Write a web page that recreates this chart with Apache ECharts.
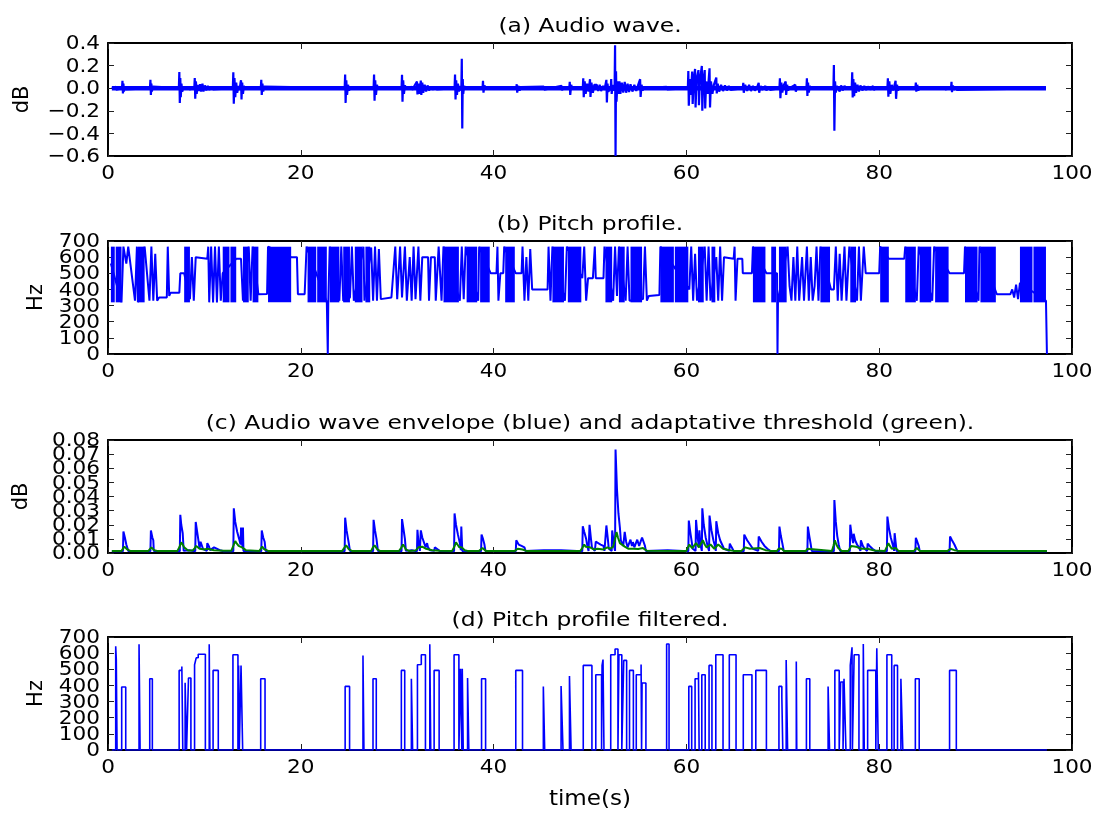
<!DOCTYPE html>
<html>
<head>
<meta charset="utf-8">
<script src="https://cdn.jsdelivr.net/npm/echarts@6/dist/echarts.min.js"></script>
<style>
  html, body { margin: 0; padding: 0; background: #fff; }
  #chart { width: 1095px; height: 814px; }
</style>
</head>
<body>
<div id="chart"></div>
<script>
// ---- panel titles and tick labels ----
const panelTitles = [
  '(a) Audio wave.',
  '(b) Pitch profile.',
  '(c) Audio wave envelope (blue) and adaptative threshold (green).',
  '(d) Pitch profile filtered.'
];
const timeLabel = 'time(s)';
const yNames = ['dB', 'Hz', 'dB', 'Hz'];
const timeTicks = [0, 20, 40, 60, 80, 100];
const waveTicks = [-0.6, -0.4, -0.2, 0.0, 0.2, 0.4];
const pitchTicks = [0, 100, 200, 300, 400, 500, 600, 700];
const envTicks = [0, 0.01, 0.02, 0.03, 0.04, 0.05, 0.06, 0.07, 0.08];

// ---- (a) audio wave: [time s, dB] ----
const waveFloor = [[0.4, 0], [97.3, 0]];
const audioWave = [
  [0.4,0],[0.8,0.012],[0.85,-0.012],[0.9,0],
  [1.45,0],[1.5,0.065],[1.55,-0.047],[1.6,0.04],[1.65,-0.03],[1.75,0.015],[1.85,-0.01],[1.95,0],
  [4.35,0],[4.4,0.074],[4.45,-0.059],[4.5,0.04],[4.55,-0.03],[4.65,0.015],[4.75,0],
  [7.35,0],[7.4,0.144],[7.45,-0.13],[7.5,0.09],[7.55,-0.08],[7.62,0.04],[7.7,-0.03],[7.8,0],
  [8.4,0.01],[8.45,-0.01],[8.5,0],
  [8.95,0],[9.0,0.09],[9.05,-0.094],[9.12,0.06],[9.2,-0.05],[9.3,0.03],[9.4,-0.025],
  [9.55,0.035],[9.65,-0.03],[9.8,0.04],[9.9,-0.03],[10.05,0.025],[10.2,-0.02],[10.35,0.02],[10.5,-0.015],[10.7,0.012],[10.9,-0.01],[11.1,0],
  [12.95,0],[13.0,0.141],[13.05,-0.138],[13.12,0.09],[13.2,-0.08],[13.3,0.05],[13.4,-0.04],[13.55,0.02],[13.65,-0.015],
  [13.75,0.05],[13.8,0.07],[13.85,-0.1],[13.92,0.05],[14.0,-0.05],[14.1,0.02],[14.2,0],
  [15.85,0],[15.9,0.074],[15.95,-0.06],[16.02,0.04],[16.1,-0.03],[16.2,0.015],[16.3,0],
  [24.55,0],[24.6,0.12],[24.65,-0.13],[24.72,0.07],[24.8,-0.06],[24.9,0.03],[25.0,-0.02],[25.1,0],
  [27.55,0],[27.6,0.12],[27.65,-0.11],[27.72,0.07],[27.8,-0.06],[27.9,0.03],[28.0,0],
  [30.45,0],[30.5,0.118],[30.55,-0.12],[30.62,0.07],[30.7,-0.05],[30.8,0.025],[30.9,0],
  [31.5,0.012],[31.55,-0.015],[31.6,0],
  [32.05,0.06],[32.1,-0.055],[32.2,0.04],[32.3,-0.05],[32.45,0.068],[32.5,-0.06],[32.6,0.05],[32.7,-0.04],[32.85,0.03],[33.0,-0.03],
  [33.15,0.025],[33.3,-0.02],[33.5,0.015],[33.7,-0.012],[33.95,0.012],[34.1,-0.01],[34.2,0],
  [35.95,0],[36.0,0.12],[36.05,-0.1],[36.12,0.07],[36.2,-0.06],[36.3,0.04],[36.4,-0.03],[36.5,0.02],
  [36.65,-0.02],[36.7,0.26],[36.75,-0.356],[36.8,0.08],[36.85,-0.05],[36.95,0.02],[37.05,0],
  [38.85,0],[38.9,0.065],[38.95,-0.04],[39.05,0.025],[39.15,0],
  [42.35,0],[42.4,0.035],[42.45,-0.04],[42.55,0.02],[42.7,-0.02],[42.85,0.01],[43.0,0],
  [45.2,0.015],[45.25,-0.012],[45.3,0],
  [47.05,0.02],[47.1,-0.02],[47.15,0],
  [47.85,0],[47.9,0.056],[47.95,-0.06],[48.05,0.03],[48.15,0],
  [49.25,0],[49.3,0.088],[49.35,-0.08],[49.45,0.06],[49.55,-0.05],[49.7,0.04],[49.85,-0.03],[50.0,0.08],[50.05,-0.077],[50.15,0.05],[50.3,-0.04],[50.45,0.03],
  [50.7,0.03],[50.85,-0.025],[51.0,0.03],[51.15,-0.025],[51.35,0.02],[51.5,-0.015],
  [51.65,0],[51.7,0.074],[51.75,-0.126],[51.82,0.04],[51.9,-0.03],
  [52.15,0],[52.2,0.08],[52.25,-0.05],[52.35,0.03],[52.45,-0.02],
  [52.55,0],[52.6,0.38],[52.65,-0.6],[52.7,0.15],[52.75,-0.12],[52.85,0.06],[52.95,-0.05],
  [53.05,0.06],[53.15,-0.05],[53.3,0.05],[53.45,-0.04],[53.6,0.055],[53.75,-0.04],[53.9,0.04],[54.05,-0.035],[54.2,0.035],[54.4,-0.03],
  [54.6,0.03],[54.8,-0.025],[55.0,0.03],[55.2,0.08],[55.25,-0.077],[55.35,0.03],[55.45,-0.02],[55.6,0],
  [57.95,0.012],[58.0,-0.01],[58.05,0],
  [60.15,0],[60.2,0.153],[60.25,-0.156],[60.35,0.08],[60.45,-0.06],[60.6,0.147],[60.65,-0.14],[60.75,0.06],[60.9,0.17],[60.95,-0.17],
  [61.05,0.07],[61.25,0.16],[61.3,-0.15],[61.4,0.06],[61.6,0.197],[61.65,-0.2],[61.75,0.07],[61.9,0.16],[61.95,-0.18],[62.05,0.06],
  [62.2,-0.05],[62.4,0.176],[62.45,-0.17],[62.55,0.06],[62.7,-0.05],[62.85,0.03],
  [63.1,0.094],[63.15,-0.047],[63.25,0.04],[63.4,-0.03],[63.6,0.03],[63.8,-0.025],[64.0,0.025],[64.2,-0.02],[64.4,0.02],[64.6,-0.015],[64.8,0],
  [65.85,0],[65.9,0.047],[65.95,-0.04],[66.1,0.03],[66.3,-0.025],[66.5,0.03],[66.7,-0.025],[66.9,0.02],[67.1,-0.02],[67.3,0],
  [67.5,0.047],[67.55,-0.04],[67.7,0.02],[67.85,-0.015],[68.0,0],
  [68.2,0.02],[68.3,-0.02],[68.5,0.015],[68.7,-0.015],[68.9,0],
  [69.65,0],[69.7,0.088],[69.75,-0.088],[69.85,0.05],[69.95,-0.04],[70.05,0.02],
  [70.3,0.06],[70.35,-0.06],[70.45,0.03],[70.55,-0.02],[70.7,0],
  [71.3,0.03],[71.35,-0.03],[71.45,0],
  [72.45,0],[72.5,0.088],[72.55,-0.068],[72.62,0.05],[72.7,-0.04],[72.8,0.02],[72.9,0],
  [75.25,0],[75.3,0.206],[75.35,-0.376],[75.42,0.06],[75.5,-0.04],[75.6,0.02],
  [75.8,0.03],[75.9,-0.03],[76.05,0.025],[76.2,-0.02],[76.4,0.02],[76.55,0],
  [77.15,0],[77.2,0.14],[77.25,-0.082],[77.32,0.08],[77.4,-0.07],[77.5,0.05],[77.6,-0.04],[77.75,0.03],[77.9,-0.03],[78.05,0.025],
  [78.25,-0.02],[78.45,0.02],[78.65,-0.015],[78.9,0.015],[79.1,-0.012],[79.35,0.02],[79.45,-0.015],[79.7,0],
  [80.85,0],[80.9,0.088],[80.95,-0.076],[81.05,0.06],[81.15,-0.05],[81.3,0.03],[81.45,-0.02],
  [81.7,0.065],[81.75,-0.094],[81.85,0.03],[81.95,-0.02],[82.1,0],
  [83.75,0],[83.8,0.05],[83.85,-0.03],[83.95,0.03],[84.05,-0.02],[84.2,0],
  [86.8,0.01],[86.85,-0.01],[86.9,0],
  [87.45,0],[87.5,0.056],[87.55,-0.035],[87.65,0.025],[87.75,-0.015],[87.9,0.01],
  [88.0,0.015],[88.05,-0.015],[88.15,0],
  [97.3,0]
];

// ---- (b) pitch profile: dense oscillation spans [t0, t1, lowHz, highHz] and the trace [time s, Hz] ----
const pitchBands = [
  [0.3,0.7,320,665],[0.8,1.4,320,665],[3.1,3.8,320,665],[7.9,8.5,320,665],[11.9,12.6,320,665],[12.7,13.3,320,665],
  [14.0,14.6,320,665],[15.0,15.6,320,665],[16.6,19.0,320,665],[20.7,21.6,320,665],[21.7,22.7,320,665],
  [23.0,24.0,320,665],[24.4,25.1,320,665],[25.6,26.4,320,665],[26.7,27.2,320,665],
  [34.8,36.4,320,665],[37.2,38.3,320,665],[38.6,39.6,320,665],[41.2,42.2,320,665],
  [46.1,47.3,320,665],[47.7,49.1,320,665],[51.6,52.3,320,665],[53.0,53.6,320,665],
  [54.2,55.4,320,665],[57.3,58.7,320,665],[58.8,60.2,320,665],[61.2,61.8,320,665],[62.6,63.0,320,665],
  [66.9,68.2,320,665],[68.8,69.3,320,665],[69.6,70.4,320,665],[73.9,74.9,320,665],
  [77.0,77.6,320,665],[80.1,81.0,320,665],[82.7,83.8,320,665],[84.2,85.4,320,665],
  [85.8,87.2,320,665],[88.9,90.2,320,665],[90.5,92.1,320,665],[94.6,95.9,320,665],[96.0,97.3,320,665]
];
const pitchTrace = [
  [0.3,560],[1.4,320],[1.6,665],[1.9,560],[2.1,665],[2.8,330],[3.0,665],[3.1,320],
  [3.8,665],[4.3,330],[4.5,665],[4.7,330],[4.9,620],[5.1,330],[5.3,350],[6.1,350],[6.2,665],[6.35,360],[6.5,380],[7.4,380],
  [7.5,500],[7.9,500],[8.5,340],[8.7,600],[8.9,330],[9.1,600],[9.3,590],[10.3,590],[10.4,665],[10.5,320],[10.7,665],
  [10.9,320],[11.1,665],[11.3,320],[11.5,665],[11.7,330],[11.9,500],[13.3,590],[13.8,590],[14.0,330],
  [14.6,665],[14.8,330],[15.0,665],[15.6,370],[15.8,372],[16.5,372],[16.6,665],
  [19.0,600],[19.6,600],[19.7,370],[20.4,370],[20.6,665],[22.7,320],[22.75,320],[22.8,0],[22.85,320],[23.0,665],
  [24.0,330],[24.2,665],[24.4,330],[25.1,350],[25.3,665],[25.5,330],[26.5,665],[26.6,330],
  [27.3,660],[27.5,330],[27.7,665],[27.9,330],[28.1,650],[28.3,340],[28.5,350],[29.4,350],[29.6,360],[29.8,665],
  [30.0,340],[30.3,665],[30.5,350],[30.8,665],[31.0,330],[31.3,600],[31.5,330],[31.7,665],[31.9,340],[32.2,665],
  [32.4,330],[32.6,600],[33.2,600],[33.3,330],[33.5,600],[33.9,600],[34.0,330],[34.3,665],[34.6,330],[34.8,665],
  [36.5,330],[36.7,665],[36.9,340],[37.1,665],[38.4,330],[38.5,665],
  [39.7,500],[40.3,500],[40.4,665],[40.5,330],[40.7,500],[41.0,500],[41.1,665],
  [42.3,500],[42.9,500],[43.0,665],[43.2,330],[43.4,600],[43.6,330],[43.8,650],[44.0,400],[45.6,400],
  [45.7,665],[45.9,330],[46.1,665],[47.4,330],[47.6,665],
  [49.2,470],[49.4,665],[49.6,330],[49.8,470],[50.3,470],[50.5,665],[50.6,470],[51.4,470],[51.5,665],
  [52.4,330],[52.6,665],[52.8,360],[53.0,665],[53.7,330],[53.9,665],[54.1,330],
  [55.5,340],[55.7,665],[55.9,330],[56.1,360],[56.2,365],[57.2,365],[57.3,665],
  [60.3,400],[60.5,665],[60.7,330],[60.9,620],[61.1,330],[61.9,665],[62.1,330],[62.3,665],[62.5,330],
  [63.1,600],[63.3,330],[63.5,665],[63.7,330],[63.9,600],[64.0,590],[64.9,590],[65.0,665],[65.1,330],
  [65.3,590],[65.8,590],[65.85,500],[66.8,500],[66.9,665],[68.3,500],[68.7,500],
  [69.4,500],[69.45,0],[69.5,330],[70.5,665],[70.7,420],[70.9,330],[71.1,600],[71.3,330],[71.5,665],
  [71.7,330],[72.0,600],[72.2,330],[72.5,665],[72.7,330],[72.9,600],[73.1,330],[73.3,420],[73.5,665],[73.7,330],[73.9,665],
  [75.0,400],[75.3,400],[75.5,665],[75.7,330],[75.9,620],[76.1,330],[76.4,665],[76.6,330],[76.9,665],
  [77.7,330],[77.9,665],[78.1,330],[78.4,665],[78.6,500],[80.0,500],[80.1,665],
  [81.0,590],[82.6,590],[82.7,665],[83.9,330],[84.1,665],[85.5,330],[85.7,665],
  [87.3,500],[88.8,500],[88.9,665],[90.3,330],[90.4,665],
  [92.2,370],[93.6,370],[93.8,400],[94.0,350],[94.2,430],[94.4,340],[94.6,440],
  [97.3,330],[97.35,330],[97.4,0]
];

// ---- (c) envelope (blue) and adaptive threshold (green): [time s, dB] ----
const envelope = [
  [0.4,0.0012],[1.55,0.0012],[1.6,0.0152],[1.75,0.011],[1.9,0.006],[2.0,0.0065],[2.1,0.0015],
  [4.4,0.0012],[4.45,0.016],[4.6,0.011],[4.7,0.009],[4.75,0.0015],
  [7.45,0.0012],[7.5,0.027],[7.6,0.02],[7.75,0.014],[7.85,0.0015],
  [8.4,0.002],[9.05,0.0012],[9.1,0.022],[9.25,0.015],[9.4,0.008],[9.5,0.003],[9.6,0.008],[9.7,0.006],[9.85,0.003],
  [10.25,0.0015],[10.3,0.007],[10.45,0.005],[10.6,0.002],[11.0,0.004],[11.2,0.003],[11.6,0.002],[12.0,0.0012],
  [13.0,0.0012],[13.05,0.0316],[13.2,0.022],[13.4,0.015],[13.6,0.01],[13.75,0.006],[13.8,0.018],[13.9,0.018],[13.95,0.004],[14.0,0.018],[14.05,0.0015],
  [15.9,0.0012],[15.95,0.016],[16.1,0.011],[16.25,0.008],[16.35,0.0015],
  [24.55,0.0012],[24.6,0.025],[24.75,0.016],[24.9,0.01],[25.0,0.006],[25.1,0.0015],
  [27.5,0.0012],[27.55,0.0235],[27.7,0.016],[27.85,0.01],[28.0,0.0015],
  [30.45,0.0012],[30.5,0.024],[30.65,0.017],[30.8,0.01],[30.9,0.0015],
  [31.5,0.002],[32.05,0.0012],[32.1,0.0164],[32.2,0.008],[32.35,0.0015],[32.45,0.016],[32.6,0.011],[32.8,0.007],[32.95,0.004],
  [33.1,0.007],[33.2,0.004],[33.4,0.002],[33.85,0.0015],[33.9,0.004],[34.1,0.003],[34.4,0.0015],
  [35.9,0.0012],[35.95,0.028],[36.1,0.02],[36.3,0.013],[36.5,0.007],[36.6,0.002],[36.65,0.0188],[36.72,0.0188],[36.75,0.0015],
  [38.7,0.0012],[38.75,0.013],[38.9,0.01],[39.05,0.006],[39.15,0.0015],
  [42.3,0.0012],[42.35,0.009],[42.6,0.006],[42.9,0.005],[43.2,0.004],[43.3,0.0015],
  [45.2,0.002],[47.0,0.002],
  [49.2,0.0012],[49.25,0.019],[49.4,0.015],[49.6,0.01],[49.75,0.004],[49.85,0.0015],[49.95,0.02],[50.1,0.01],[50.2,0.004],
  [50.5,0.0015],[50.6,0.008],[50.8,0.007],[51.1,0.006],[51.4,0.005],[51.5,0.0015],
  [51.65,0.0012],[51.7,0.0195],[51.85,0.01],[51.95,0.003],[52.25,0.0015],[52.3,0.016],[52.45,0.008],[52.55,0.003],
  [52.6,0.0015],[52.65,0.0733],[52.8,0.045],[52.95,0.028],[53.1,0.018],[53.2,0.009],[53.3,0.009],[53.45,0.005],
  [53.6,0.015],[53.75,0.008],[53.9,0.004],[54.2,0.0094],[54.35,0.005],[54.45,0.0077],[54.6,0.004],[54.9,0.0094],
  [55.1,0.005],[55.4,0.011],[55.55,0.012],[55.7,0.005],[55.8,0.0015],
  [58.05,0.002],
  [60.2,0.0012],[60.25,0.023],[60.4,0.015],[60.55,0.008],[60.65,0.003],[60.95,0.0015],[61.0,0.0234],[61.15,0.012],[61.3,0.004],
  [61.35,0.016],[61.45,0.006],[61.6,0.0015],[61.65,0.0316],[61.8,0.02],[62.0,0.011],[62.2,0.005],[62.35,0.0015],
  [62.4,0.0265],[62.6,0.016],[62.8,0.009],[63.0,0.004],[63.05,0.0015],[63.1,0.0225],[63.3,0.014],[63.5,0.009],
  [63.7,0.006],[63.9,0.003],[64.45,0.0015],[64.5,0.0066],[64.7,0.004],[64.9,0.0015],
  [65.95,0.0012],[66.0,0.013],[66.3,0.009],[66.6,0.006],[66.9,0.003],[67.45,0.0015],[67.5,0.0117],[67.8,0.008],
  [68.1,0.005],[68.4,0.003],[68.7,0.0015],
  [69.6,0.0012],[69.65,0.0187],[69.8,0.012],[69.95,0.007],[70.1,0.0015],
  [72.55,0.0012],[72.6,0.0187],[72.75,0.012],[72.9,0.006],[73.0,0.0015],
  [75.3,0.0012],[75.35,0.0375],[75.5,0.022],[75.65,0.012],[75.8,0.006],[75.95,0.0015],
  [76.95,0.0012],[77.0,0.02],[77.15,0.012],[77.3,0.007],[77.35,0.0136],[77.5,0.009],[77.7,0.006],[77.9,0.004],
  [78.05,0.0015],[78.1,0.009],[78.3,0.005],[78.5,0.003],[78.75,0.0015],[78.8,0.0066],[79.0,0.005],[79.3,0.003],[79.6,0.0015],
  [80.8,0.0012],[80.85,0.0258],[81.0,0.018],[81.2,0.011],[81.4,0.006],[81.55,0.0015],[81.6,0.014],[81.75,0.014],[81.8,0.0015],
  [83.75,0.0012],[83.8,0.0108],[83.95,0.008],[84.1,0.005],[84.2,0.0015],
  [87.3,0.0012],[87.35,0.0117],[87.55,0.009],[87.8,0.006],[88.0,0.003],[88.1,0.0015],
  [92.0,0.0012],[97.4,0.0012]
];
const threshold = [
  [0.4,0.0015],[1.4,0.0015],[1.55,0.0025],[1.7,0.0045],[1.85,0.0035],[2.0,0.0025],[2.3,0.0015],
  [4.2,0.0015],[4.35,0.0025],[4.5,0.004],[4.65,0.003],[4.8,0.002],[5.1,0.0015],
  [7.2,0.0015],[7.4,0.004],[7.6,0.0075],[7.75,0.006],[7.9,0.004],[8.3,0.0018],
  [8.8,0.0018],[9.0,0.0035],[9.15,0.005],[9.3,0.004],[9.5,0.003],[10.0,0.0025],[10.3,0.003],[11.0,0.002],[12.0,0.0016],
  [12.8,0.0016],[13.0,0.005],[13.2,0.0085],[13.35,0.0068],[13.55,0.005],[13.9,0.004],[14.3,0.002],
  [15.7,0.0015],[15.85,0.003],[16.0,0.0045],[16.15,0.003],[16.3,0.002],[16.6,0.0015],
  [24.3,0.0015],[24.5,0.0035],[24.7,0.0055],[24.85,0.004],[25.0,0.0025],[25.3,0.0015],
  [27.3,0.0015],[27.45,0.0035],[27.65,0.0055],[27.8,0.004],[27.95,0.0025],[28.2,0.0015],
  [30.2,0.0015],[30.4,0.0035],[30.6,0.006],[30.75,0.0045],[30.9,0.0025],[31.2,0.0015],
  [31.9,0.0017],[32.2,0.004],[32.4,0.0035],[32.6,0.0045],[33.0,0.003],[33.6,0.002],[34.4,0.0016],
  [35.7,0.0015],[35.9,0.004],[36.1,0.0075],[36.25,0.006],[36.45,0.004],[36.7,0.004],[37.0,0.002],[37.3,0.0015],
  [38.5,0.0015],[38.7,0.0028],[38.85,0.0035],[39.0,0.0025],[39.2,0.0015],
  [42.2,0.0015],[42.5,0.003],[43.0,0.0025],[43.4,0.0015],
  [49.0,0.0015],[49.2,0.0035],[49.4,0.006],[49.55,0.0045],[49.7,0.0035],[50.0,0.004],[50.4,0.0025],[50.8,0.003],[51.4,0.0025],[51.8,0.004],
  [52.1,0.003],[52.4,0.0045],[52.6,0.01],[52.75,0.0148],[52.9,0.011],[53.1,0.007],[53.6,0.0045],[54.0,0.003],[54.5,0.003],[55.0,0.0028],[55.5,0.0035],[55.9,0.0016],
  [60.0,0.0015],[60.3,0.006],[60.6,0.0035],[61.0,0.007],[61.3,0.004],[61.55,0.007],[61.7,0.009],[61.9,0.006],[62.1,0.004],[62.5,0.006],
  [62.9,0.003],[63.3,0.006],[63.8,0.003],[64.5,0.002],[64.9,0.0015],
  [65.7,0.0015],[66.1,0.004],[66.6,0.003],[67.6,0.0035],[68.2,0.002],[68.7,0.0015],
  [69.4,0.0015],[69.6,0.0032],[69.75,0.0045],[69.9,0.003],[70.1,0.0015],
  [72.4,0.0015],[72.55,0.003],[72.7,0.004],[72.85,0.0028],[73.0,0.0015],
  [75.1,0.0015],[75.25,0.005],[75.4,0.009],[75.55,0.006],[75.75,0.0035],[76.1,0.0015],
  [76.8,0.0015],[77.1,0.005],[77.6,0.0045],[78.1,0.003],[78.8,0.003],[79.5,0.0018],
  [80.6,0.0015],[80.8,0.0045],[80.95,0.007],[81.1,0.005],[81.3,0.003],[81.7,0.0035],[82.0,0.0015],
  [83.6,0.0015],[83.9,0.0035],[84.2,0.0015],
  [87.1,0.0015],[87.4,0.003],[87.8,0.002],[88.2,0.0015],
  [97.4,0.0015]
];

// ---- (d) filtered pitch: voiced segments [start s, end s, Hz] ----
const filteredSpan = [0.4, 97.4];
const voicedSegments = [
  [0.8,0.86,643],[0.86,0.94,560],[1.42,1.84,390],[3.22,3.33,655],[4.33,4.6,441],
  [7.38,7.66,493],[7.66,7.76,517],[8.0,8.15,417],[8.35,8.6,446],
  [8.98,9.15,528],[9.15,9.36,571],[9.36,10.1,593],[10.5,10.57,655],[10.9,11.44,493],
  [12.96,13.48,590],[13.55,13.62,524],[13.8,13.97,524],[15.84,16.29,441],
  [24.6,25.06,394],[26.45,26.55,585],[27.49,27.83,441],[30.43,30.78,493],[31.47,31.6,441],
  [32.1,32.3,528],[32.3,32.5,530],[32.5,32.93,590],[33.38,33.48,655],[33.83,34.35,493],
  [35.9,36.4,590],[36.57,36.7,503],[36.75,36.85,503],[37.3,37.43,446],[38.75,39.17,441],
  [42.3,43.0,493],[45.16,45.3,394],[47.0,47.2,396],[47.87,48.04,458],
  [49.3,50.2,524],[50.6,51.2,466],[51.25,51.35,524],[51.35,51.45,560],
  [52.15,52.6,590],[52.6,52.9,626],[53.0,53.3,590],[53.5,53.8,555],[54.1,54.5,493],
  [54.8,55.3,466],[55.3,55.35,530],[55.4,55.8,415],[57.95,58.2,657],
  [60.25,60.55,394],[60.9,61.25,441],[61.25,61.32,482],[61.6,61.95,466],[62.35,62.65,524],
  [63.05,63.8,590],[64.45,65.15,590],[65.9,66.8,466],[67.2,68.3,493],
  [69.6,69.9,394],[69.9,70.0,328],[70.35,70.5,558],[71.4,71.45,548],[72.45,72.8,441],
  [74.7,74.85,394],[75.4,75.85,493],[76.0,76.25,421],[76.35,76.55,441],
  [77.0,77.18,524],[77.18,77.22,636],[77.4,77.9,590],[78.35,78.45,657],[78.8,79.65,493],
  [79.75,79.9,630],[80.8,81.3,590],[81.55,81.9,524],[82.25,82.45,441],[83.75,84.15,441],
  [87.3,88.0,493]
];

// Turn voiced segments into a step outline that rests on 0 Hz between them;
// touching segments step directly from one level to the next.
function segmentsToSteps(span, segs) {
  const pts = [[span[0], 0]];
  for (let i = 0; i < segs.length; i++) {
    const s = segs[i];
    const prev = segs[i - 1];
    const joined = prev && Math.abs(prev[1] - s[0]) < 1e-9;
    if (!joined) pts.push([s[0], 0]);
    pts.push([s[0], s[2]]);
    pts.push([s[1], s[2]]);
    const next = segs[i + 1];
    if (!(next && Math.abs(next[0] - s[1]) < 1e-9)) pts.push([s[1], 0]);
  }
  pts.push([span[1], 0]);
  return pts;
}

const BLUE = '#0000ff';
const GREEN = '#008000';
const FONT = 'DejaVu Sans';
const gridTops = [43, 241, 440, 637];
const gridH = 113;
const gridLeft = 108;
const gridRight = 23;

const yConf = [
  { ticks: waveTicks, dec: 1, nameGap: 75 },
  { ticks: pitchTicks, dec: 0, nameGap: 61 },
  { ticks: envTicks, dec: 2, nameGap: 76 },
  { ticks: pitchTicks, dec: 0, nameGap: 61 }
];

function tickText(v, dec) {
  if (Math.abs(v) < 1e-9) v = 0;
  return v.toFixed(dec).replace('-', '\u2212');
}

const grids = gridTops.map(function (t) {
  return { left: gridLeft, right: gridRight, top: t, height: gridH };
});

const tickStyle = { show: true, inside: true, length: 6, lineStyle: { color: '#222', width: 1 } };
const frameLine = { show: true, onZero: false, lineStyle: { color: '#000', width: 2 } };

const xAxes = [];
const yAxes = [];
for (let g = 0; g < 4; g++) {
  ['bottom', 'top'].forEach(function (pos) {
    xAxes.push({
      type: 'value', gridIndex: g, position: pos,
      min: timeTicks[0], max: timeTicks[timeTicks.length - 1], interval: timeTicks[1] - timeTicks[0],
      axisLine: frameLine, axisTick: tickStyle, axisLabel: { show: false }, splitLine: { show: false }
    });
  });
  const c = yConf[g];
  ['left', 'right'].forEach(function (pos) {
    yAxes.push({
      type: 'value', gridIndex: g, position: pos,
      min: c.ticks[0], max: c.ticks[c.ticks.length - 1],
      interval: +(c.ticks[1] - c.ticks[0]).toFixed(6),
      axisLine: frameLine, axisTick: tickStyle, axisLabel: { show: false }, splitLine: { show: false },
      name: pos === 'left' ? yNames[g] : '', nameLocation: 'middle', nameRotate: 90, nameGap: c.nameGap,
      nameTextStyle: { color: '#000', fontFamily: FONT, fontSize: 21 }
    });
  });
}

function lineSeries(g, data, color, width, extra) {
  return Object.assign({
    type: 'line', xAxisIndex: g * 2, yAxisIndex: g * 2, data: data,
    showSymbol: false, symbol: 'none', animation: false, silent: true,
    lineStyle: { color: color, width: width }, itemStyle: { color: color }
  }, extra || {});
}

const series = [
  lineSeries(0, waveFloor, BLUE, 4.5),
  lineSeries(0, audioWave, BLUE, 2.2),
  {
    type: 'custom', xAxisIndex: 2, yAxisIndex: 2, data: pitchBands, animation: false, silent: true,
    encode: { x: [0, 1], y: [2, 3] },
    renderItem: function (params, api) {
      const p0 = api.coord([api.value(0), api.value(3)]);
      const p1 = api.coord([api.value(1), api.value(2)]);
      return {
        type: 'rect',
        shape: { x: p0[0], y: p0[1], width: p1[0] - p0[0], height: p1[1] - p0[1] },
        style: { fill: BLUE }
      };
    }
  },
  lineSeries(1, pitchTrace, BLUE, 2),
  lineSeries(2, envelope, BLUE, 2),
  lineSeries(2, threshold, GREEN, 2),
  lineSeries(3, segmentsToSteps(filteredSpan, voicedSegments), BLUE, 1.6)
];

const chart = echarts.init(document.getElementById('chart'), null, { renderer: 'canvas' });
chart.setOption({
  backgroundColor: '#fff',
  animation: false,
  grid: grids,
  xAxis: xAxes,
  yAxis: yAxes,
  series: series
});

// Text layer: tick labels, panel titles and the time label, placed through the axes' own scales.
function textEl(str, x, y, size, align, sx) {
  return {
    type: 'text', x: x, y: y, scaleX: sx, silent: true,
    style: {
      text: str, fill: '#000', font: size + 'px "' + FONT + '"',
      align: align, verticalAlign: 'middle', textAlign: align, textVerticalAlign: 'middle'
    }
  };
}
const texts = [];
const TICK_SIZE = 20, TICK_SX = 1.08;
for (let g = 0; g < 4; g++) {
  const bottom = chart.convertToPixel({ yAxisIndex: g * 2 }, yConf[g].ticks[0]);
  const top = chart.convertToPixel({ yAxisIndex: g * 2 }, yConf[g].ticks[yConf[g].ticks.length - 1]);
  timeTicks.forEach(function (v) {
    const x = chart.convertToPixel({ xAxisIndex: g * 2 }, v);
    texts.push(textEl(String(v), x, bottom + 18, TICK_SIZE, 'center', TICK_SX));
  });
  yConf[g].ticks.forEach(function (v) {
    const y = chart.convertToPixel({ yAxisIndex: g * 2 }, v);
    texts.push(textEl(tickText(v, yConf[g].dec), gridLeft - 8, y + 1, TICK_SIZE, 'right', TICK_SX));
  });
  const cx = (chart.convertToPixel({ xAxisIndex: g * 2 }, timeTicks[0]) +
              chart.convertToPixel({ xAxisIndex: g * 2 }, timeTicks[timeTicks.length - 1])) / 2;
  texts.push(textEl(panelTitles[g], cx, top - 16, 20, 'center', 1.17));
  if (g === 3) texts.push(textEl(timeLabel, cx, bottom + 50, 21, 'center', 1.1));
}
chart.setOption({ graphic: { elements: texts } });
</script>
</body>
</html>
